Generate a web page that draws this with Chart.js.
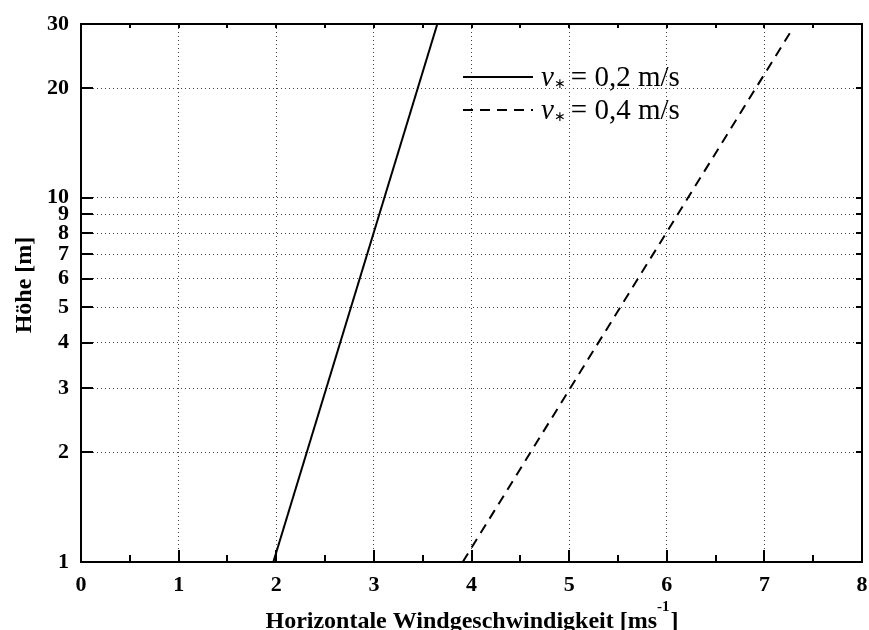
<!DOCTYPE html>
<html>
<head>
<meta charset="utf-8">
<script src="https://cdn.jsdelivr.net/npm/chart.js@4.4.0/dist/chart.umd.min.js"></script>
<style>
    html, body { margin: 0; padding: 0; background: #fff; }
    #wrap { width: 869px; height: 630px; }
</style>
</head>
<body>
<div id="wrap"><canvas id="myChart" width="869" height="630"></canvas></div>
<script>
// values
const xTicks = [0, 1, 2, 3, 4, 5, 6, 7, 8];
const yTicks = [1, 2, 3, 4, 5, 6, 7, 8, 9, 10, 20, 30];

const solidX = [1.97, 3.65];
const solidY = [1, 30];
const dashedX = [3.91, 7.26];
const dashedY = [1, 28.3];

const seriesNames = ['0,2 m/s', '0,4 m/s'];

const xTitle = 'Horizontale Windgeschwindigkeit [ms';
const xTitleSup = '-1';
const yTitle = 'Höhe [m]';

const FONT = '"Liberation Serif", "Times New Roman", serif';

function toPoints(xs, ys) {
    return xs.map((x, i) => ({x: x, y: ys[i]}));
}

// frame, inner tick marks, titles, legend
const decorations = {
    id: 'decorations',
    afterDraw(chart) {
        const ctx = chart.ctx;
        const a = chart.chartArea;
        const xs = chart.scales.x;
        const ys = chart.scales.y;
        ctx.save();
        ctx.strokeStyle = '#000';
        ctx.lineWidth = 2;
        ctx.strokeRect(a.left, a.top, a.right - a.left, a.bottom - a.top);

        // x ticks (every half unit)
        ctx.beginPath();
        for (let v = 0; v <= 8; v += 0.5) {
            const px = Math.round(xs.getPixelForValue(v));
            const major = Number.isInteger(v);
            ctx.moveTo(px, a.bottom);
            ctx.lineTo(px, a.bottom - (major ? 12 : 7));
            ctx.moveTo(px, a.top);
            ctx.lineTo(px, a.top + 4);
        }
        for (const v of yTicks) {
            const py = Math.round(ys.getPixelForValue(v));
            ctx.moveTo(a.left, py);
            ctx.lineTo(a.left + 12, py);
            ctx.moveTo(a.right, py);
            ctx.lineTo(a.right - 6, py);
        }
        ctx.stroke();

        // x title with superscript
        ctx.fillStyle = '#000';
        ctx.textBaseline = 'alphabetic';
        ctx.textAlign = 'left';
        ctx.font = 'bold 24px ' + FONT;
        const w1 = ctx.measureText(xTitle).width;
        const w3 = ctx.measureText(']').width;
        ctx.font = 'bold 15px ' + FONT;
        const w2 = ctx.measureText(xTitleSup).width;
        let tx = (a.left + a.right) / 2 - (w1 + w2 + w3) / 2;
        const ty = 628;
        ctx.font = 'bold 24px ' + FONT;
        ctx.fillText(xTitle, tx, ty);
        ctx.font = 'bold 15px ' + FONT;
        ctx.fillText(xTitleSup, tx + w1, ty - 17);
        ctx.font = 'bold 24px ' + FONT;
        ctx.fillText(']', tx + w1 + w2 + 1, ty);

        // y title
        ctx.save();
        ctx.translate(31, 285);
        ctx.rotate(-Math.PI / 2);
        ctx.textAlign = 'center';
        ctx.font = 'bold 24px ' + FONT;
        ctx.fillText(yTitle, 0, 0);
        ctx.restore();

        // legend
        const rows = [86, 119];
        chart.data.datasets.forEach((ds, i) => {
            const ly = rows[i] - 9;
            ctx.save();
            ctx.lineWidth = 2;
            ctx.strokeStyle = '#000';
            ctx.setLineDash(ds.borderDash || []);
            ctx.beginPath();
            ctx.moveTo(463, ly);
            ctx.lineTo(533, ly);
            ctx.stroke();
            ctx.restore();
            let x = 541;
            ctx.font = 'italic 29px ' + FONT;
            ctx.fillText('v', x, rows[i]);
            x += ctx.measureText('v').width;
            ctx.font = '14px ' + FONT;
            ctx.fillText('\u2217', x, rows[i] + 2);
            x += ctx.measureText('\u2217').width + 5;
            ctx.font = '29px ' + FONT;
            ctx.fillText('= ' + seriesNames[i], x, rows[i]);
        });
        ctx.restore();
    }
};

const ctx = document.getElementById('myChart');
new Chart(ctx, {
    type: 'scatter',
    data: {
        datasets: [
            {
                label: 'v* = ' + seriesNames[0],
                data: toPoints(solidX, solidY),
                showLine: true,
                borderColor: '#000',
                borderWidth: 2,
                pointRadius: 0,
                fill: false
            },
            {
                label: 'v* = ' + seriesNames[1],
                data: toPoints(dashedX, dashedY),
                showLine: true,
                borderColor: '#000',
                borderWidth: 2,
                borderDash: [10, 7],
                pointRadius: 0,
                fill: false
            }
        ]
    },
    options: {
        responsive: false,
        animation: false,
        layout: { padding: { top: 24, right: 7, left: 0, bottom: 0 } },
        plugins: {
            legend: { display: false },
            tooltip: { enabled: false }
        },
        scales: {
            x: {
                type: 'linear',
                min: 0,
                max: 8,
                afterBuildTicks: (scale) => { scale.ticks = xTicks.map(v => ({value: v})); },
                afterFit: (scale) => {
                    scale.height = 68;
                    scale.paddingLeft = 0;
                    scale.paddingRight = 0;
                },
                ticks: {
                    color: '#000',
                    font: { family: FONT, size: 22, weight: 'bold' },
                    padding: 10,
                    maxRotation: 0,
                    autoSkip: false
                },
                grid: { color: '#444', lineWidth: 1, drawTicks: false },
                border: { display: false, dash: [1, 3] }
            },
            y: {
                type: 'logarithmic',
                min: 1,
                max: 30,
                afterBuildTicks: (scale) => { scale.ticks = yTicks.map(v => ({value: v})); },
                afterFit: (scale) => {
                    scale.width = 81;
                    scale.paddingTop = 0;
                    scale.paddingBottom = 0;
                },
                ticks: {
                    color: '#000',
                    font: { family: FONT, size: 22, weight: 'bold' },
                    padding: 12,
                    autoSkip: false,
                    callback: (v) => String(v)
                },
                grid: { color: '#444', lineWidth: 1, drawTicks: false },
                border: { display: false, dash: [1, 3] }
            }
        }
    },
    plugins: [decorations]
});
</script>
</body>
</html>
